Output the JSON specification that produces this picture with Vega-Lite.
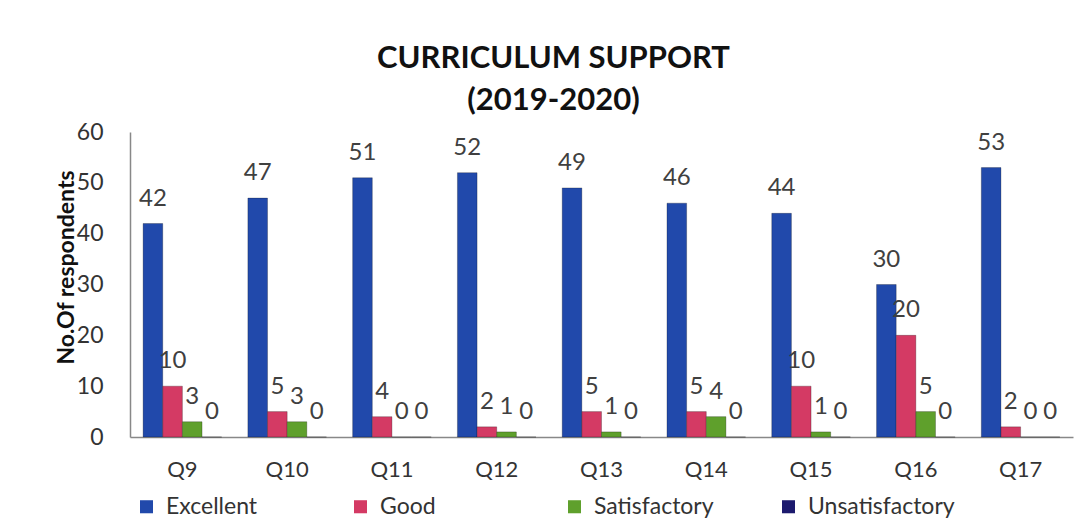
{
  "$schema": "https://vega.github.io/schema/vega-lite/v6.json",
  "width": 943,
  "height": 305,
  "autosize": {"type": "none"},
  "padding": {"left": 130, "top": 132, "right": 12, "bottom": 82},
  "background": "white",
  "title": {
    "text": ["CURRICULUM SUPPORT", "(2019-2020)"],
    "anchor": "middle",
    "dx": -48,
    "font": "Lato",
    "fontSize": 31,
    "fontWeight": "bold",
    "color": "#111111",
    "lineHeight": 42,
    "offset": 4
  },
  "data": {
    "values": [
      {"q": "Q9", "cat": "Excellent", "v": 42},
      {"q": "Q9", "cat": "Good", "v": 10},
      {"q": "Q9", "cat": "Satisfactory", "v": 3},
      {"q": "Q9", "cat": "Unsatisfactory", "v": 0},
      {"q": "Q10", "cat": "Excellent", "v": 47},
      {"q": "Q10", "cat": "Good", "v": 5},
      {"q": "Q10", "cat": "Satisfactory", "v": 3},
      {"q": "Q10", "cat": "Unsatisfactory", "v": 0},
      {"q": "Q11", "cat": "Excellent", "v": 51},
      {"q": "Q11", "cat": "Good", "v": 4},
      {"q": "Q11", "cat": "Satisfactory", "v": 0},
      {"q": "Q11", "cat": "Unsatisfactory", "v": 0},
      {"q": "Q12", "cat": "Excellent", "v": 52},
      {"q": "Q12", "cat": "Good", "v": 2},
      {"q": "Q12", "cat": "Satisfactory", "v": 1},
      {"q": "Q12", "cat": "Unsatisfactory", "v": 0},
      {"q": "Q13", "cat": "Excellent", "v": 49},
      {"q": "Q13", "cat": "Good", "v": 5},
      {"q": "Q13", "cat": "Satisfactory", "v": 1},
      {"q": "Q13", "cat": "Unsatisfactory", "v": 0},
      {"q": "Q14", "cat": "Excellent", "v": 46},
      {"q": "Q14", "cat": "Good", "v": 5},
      {"q": "Q14", "cat": "Satisfactory", "v": 4},
      {"q": "Q14", "cat": "Unsatisfactory", "v": 0},
      {"q": "Q15", "cat": "Excellent", "v": 44},
      {"q": "Q15", "cat": "Good", "v": 10},
      {"q": "Q15", "cat": "Satisfactory", "v": 1},
      {"q": "Q15", "cat": "Unsatisfactory", "v": 0},
      {"q": "Q16", "cat": "Excellent", "v": 30},
      {"q": "Q16", "cat": "Good", "v": 20},
      {"q": "Q16", "cat": "Satisfactory", "v": 5},
      {"q": "Q16", "cat": "Unsatisfactory", "v": 0},
      {"q": "Q17", "cat": "Excellent", "v": 53},
      {"q": "Q17", "cat": "Good", "v": 2},
      {"q": "Q17", "cat": "Satisfactory", "v": 0},
      {"q": "Q17", "cat": "Unsatisfactory", "v": 0}
    ]
  },
  "encoding": {
    "x": {
      "field": "q",
      "type": "nominal",
      "sort": ["Q9", "Q10", "Q11", "Q12", "Q13", "Q14", "Q15", "Q16", "Q17"],
      "scale": {"paddingInner": 0.25, "paddingOuter": 0.125},
      "axis": {
        "title": null,
        "labelAngle": 0,
        "labelFont": "Lato",
        "labelFontSize": 22,
        "labelColor": "#333333",
        "labelPadding": 22,
        "ticks": false,
        "domainColor": "#888888",
        "domainWidth": 1.5
      }
    },
    "xOffset": {
      "field": "cat",
      "type": "nominal",
      "sort": ["Excellent", "Good", "Satisfactory", "Unsatisfactory"],
      "scale": {"paddingInner": 0, "paddingOuter": 0}
    },
    "y": {
      "field": "v",
      "type": "quantitative",
      "scale": {"domain": [0, 60]},
      "axis": {
        "title": "No.Of respondents",
        "titleFont": "Lato",
        "titleFontSize": 23,
        "titleFontWeight": "bold",
        "titleColor": "#111111",
        "titleX": -52,
        "titleY": 135,
        "values": [0, 10, 20, 30, 40, 50, 60],
        "labelFont": "Lato",
        "labelFontSize": 23,
        "labelColor": "#333333",
        "labelPadding": 27,
        "ticks": false,
        "grid": false,
        "domainColor": "#888888",
        "domainWidth": 1.5
      }
    }
  },
  "layer": [
    {
      "mark": {"type": "bar", "stroke": "#00000040", "strokeWidth": 1},
      "encoding": {
        "color": {
          "field": "cat",
          "type": "nominal",
          "sort": ["Excellent", "Good", "Satisfactory", "Unsatisfactory"],
          "scale": {
            "domain": ["Excellent", "Good", "Satisfactory", "Unsatisfactory"],
            "range": ["#2149ab", "#d43a64", "#5fa02c", "#1c1a6e"]
          },
          "legend": {
            "title": null,
            "orient": "none",
            "legendX": 5,
            "legendY": 363,
            "direction": "horizontal",
            "columns": 4,
            "gridAlign": "all",
            "symbolType": "square",
            "symbolSize": 170,
            "symbolStrokeWidth": 0,
            "labelFont": "Lato",
            "labelFontSize": 23,
            "labelColor": "#333333",
            "labelOffset": 8,
            "columnPadding": 36,
            "labelLimit": 300
          }
        }
      }
    },
    {
      "mark": {
        "type": "text",
        "baseline": "middle",
        "dy": -25,
        "font": "Lato",
        "fontSize": 24,
        "color": "#404040"
      },
      "encoding": {
        "text": {"field": "v", "type": "quantitative"}
      }
    }
  ],
  "config": {
    "view": {"stroke": null}
  }
}
